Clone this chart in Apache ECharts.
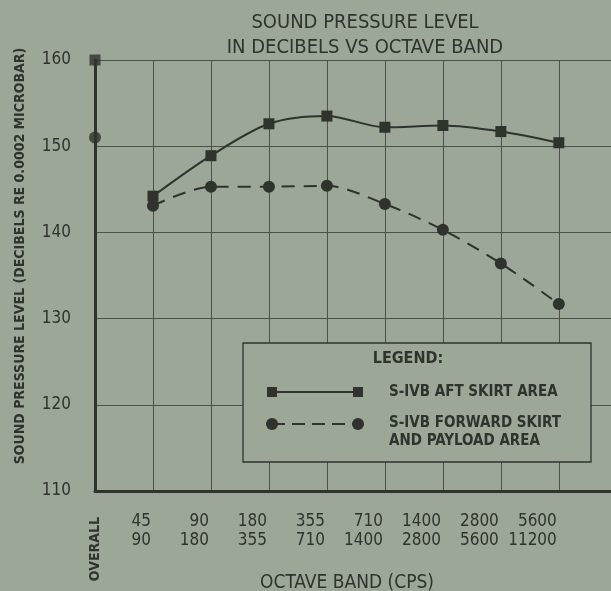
<!DOCTYPE html>
<html>
<head>
<meta charset="utf-8">
<script src="https://cdn.jsdelivr.net/npm/echarts@6/dist/echarts.min.js"></script>
<style>
html,body{margin:0;padding:0;background:#9ca797;}
#chart{width:611px;height:591px;}
</style>
</head>
<body>
<div id="chart"></div>
<script>
// ---- data ----
const overallLabel = 'OVERALL';
const bandLabels = ['45\n90','90\n180','180\n355','355\n710','710\n1400','1400\n2800','2800\n5600','5600\n11200'];
const aftSkirt = [144.2, 148.9, 152.6, 153.5, 152.2, 152.4, 151.7, 150.4];
const fwdSkirt = [143.1, 145.3, 145.3, 145.4, 143.3, 140.3, 136.4, 131.7];
const aftOverall = 160;
const fwdOverall = 151;
const yTicks = [110, 120, 130, 140, 150, 160];
const aftName = 'S-IVB AFT SKIRT AREA';
const fwdName = 'S-IVB FORWARD SKIRT\nAND PAYLOAD AREA';

const FONT = '"Liberation Sans Narrow", "DejaVu Sans Condensed", "Arial Narrow", sans-serif';
const INK = '#2f322d';
const GRIDC = '#4b5249';
const BG = '#9ca797';

const chart = echarts.init(document.getElementById('chart'), null, {renderer: 'canvas'});

const aftData = bandLabels.map((b, i) => [i + 1, aftSkirt[i]]);
const fwdData = bandLabels.map((b, i) => [i + 1, fwdSkirt[i]]);

const option = {
  backgroundColor: BG,
  animation: false,
  title: {
    text: 'SOUND PRESSURE LEVEL\nIN DECIBELS VS OCTAVE BAND',
    left: 360, top: 5, textAlign: 'center',
    textStyle: {fontFamily: FONT, fontSize: 20, fontWeight: 'normal', color: INK, lineHeight: 25}
  },
  grid: {left: 95, right: 0, top: 60, bottom: 100, containLabel: false, outerBoundsMode: 'none'},
  xAxis: [{
    type: 'value', min: 0, max: 8.9, interval: 1,
    axisLine: {show: true, lineStyle: {color: INK, width: 3}},
    axisTick: {show: false},
    splitLine: {show: true, lineStyle: {color: GRIDC, width: 1}},
    axisLabel: {
      margin: 21, fontFamily: FONT, fontSize: 17, color: INK, lineHeight: 19, align: 'right',
      padding: [0, 2, 0, 0],
      showMaxLabel: false,
      formatter: v => (Number.isInteger(v) && v >= 1 && v <= bandLabels.length) ? bandLabels[v - 1] : ''
    },
    name: 'OCTAVE BAND (CPS)', nameLocation: 'middle', nameGap: 83,
    nameTextStyle: {fontFamily: FONT, fontSize: 19, color: INK, padding: [0, 12, 0, 0]}
  }, {
    type: 'value', min: 0, max: 8.9, interval: 1, position: 'bottom',
    axisLine: {show: false}, axisTick: {show: false}, splitLine: {show: false},
    axisLabel: {
      rotate: 90, margin: 26, fontFamily: FONT, fontSize: 14, fontWeight: 'bold', color: INK,
      showMaxLabel: false,
      formatter: v => v === 0 ? overallLabel : ''
    }
  }],
  yAxis: {
    type: 'value', min: 110, max: 160, interval: 10,
    axisLine: {show: true, lineStyle: {color: INK, width: 3}},
    axisTick: {show: false},
    splitLine: {show: true, lineStyle: {color: GRIDC, width: 1}},
    axisLabel: {
      margin: 24, fontFamily: FONT, fontSize: 17, color: INK,
      formatter: v => yTicks.includes(v) ? String(v) : ''
    }
  },
  series: [
    {
      name: aftName, type: 'line', data: aftData, smooth: 0.3,
      symbol: 'rect', symbolSize: 11,
      lineStyle: {color: INK, width: 2},
      itemStyle: {color: INK}, z: 5
    },
    {
      name: fwdName, type: 'line', data: fwdData, smooth: 0.3,
      symbol: 'circle', symbolSize: 12,
      lineStyle: {color: INK, width: 2, type: [13, 9]},
      itemStyle: {color: INK}, z: 5
    },
    {
      type: 'scatter', data: [[0, aftOverall]], symbol: 'rect', symbolSize: 11,
      itemStyle: {color: INK}, clip: false, z: 6
    },
    {
      type: 'scatter', data: [[0, fwdOverall]], symbol: 'circle', symbolSize: 12,
      itemStyle: {color: INK}, clip: false, z: 6
    }
  ],
  graphic: [
    {
      type: 'text', x: 20, y: 256, rotation: Math.PI / 2, z: 50,
      style: {
        text: 'SOUND PRESSURE LEVEL (DECIBELS RE 0.0002 MICROBAR)',
        font: 'bold 14px ' + FONT, fill: INK, align: 'center', verticalAlign: 'middle'
      }
    },
    {
      type: 'group', z: 100,
      children: [
        {type: 'rect', shape: {x: 243, y: 343, width: 348, height: 119},
         style: {fill: BG, stroke: INK, lineWidth: 1.3}, z: 100},
        {type: 'text', x: 408, y: 359, z: 101,
         style: {text: 'LEGEND:', font: 'bold 16px ' + FONT, fill: INK, align: 'center', verticalAlign: 'middle'}},
        {type: 'line', shape: {x1: 272, y1: 392, x2: 358, y2: 392}, style: {stroke: INK, lineWidth: 2}, z: 101},
        {type: 'rect', shape: {x: 267, y: 387, width: 10, height: 10}, style: {fill: INK}, z: 102},
        {type: 'rect', shape: {x: 353, y: 387, width: 10, height: 10}, style: {fill: INK}, z: 102},
        {type: 'text', x: 389, y: 392, z: 101,
         style: {text: aftName, font: 'bold 15px ' + FONT, fill: INK, align: 'left', verticalAlign: 'middle'}},
        {type: 'line', shape: {x1: 272, y1: 424, x2: 358, y2: 424}, style: {stroke: INK, lineWidth: 2, lineDash: [13, 7]}, z: 101},
        {type: 'circle', shape: {cx: 272, cy: 424, r: 6}, style: {fill: INK}, z: 102},
        {type: 'circle', shape: {cx: 358, cy: 424, r: 6}, style: {fill: INK}, z: 102},
        {type: 'text', x: 389, y: 432, z: 101,
         style: {text: fwdName, font: 'bold 15px ' + FONT, fill: INK, align: 'left', verticalAlign: 'middle', lineHeight: 18}}
      ]
    }
  ]
};
chart.setOption(option);
</script>
</body>
</html>
